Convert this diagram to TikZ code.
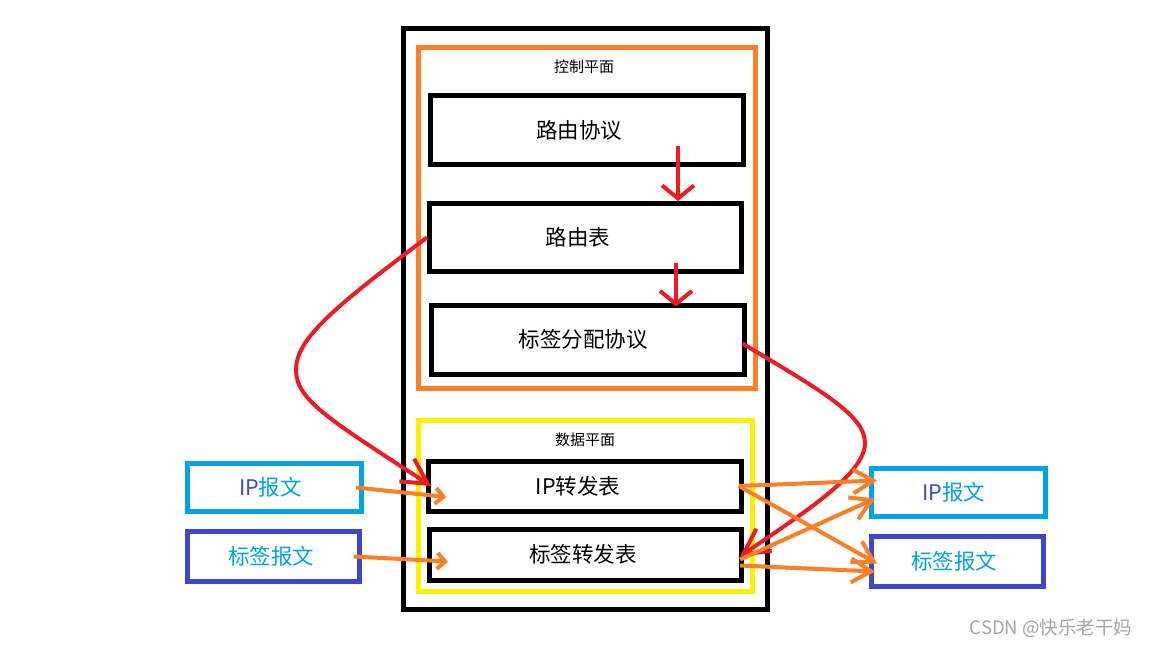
\documentclass[tikz,border=0pt]{standalone}
\usepackage{fontspec}
\setmainfont{Noto Sans CJK SC}
\usepackage{tikz}
\usetikzlibrary{arrows.meta}
\definecolor{paintRed}{HTML}{ED1C24}
\definecolor{paintOrange}{HTML}{FF7F27}
\definecolor{paintYellow}{HTML}{FFF200}
\definecolor{paintCyan}{HTML}{00A2E8}
\definecolor{paintBlue}{HTML}{3F48CC}
\tikzset{
  planebox/.style={rectangle,line width=5pt,inner sep=0pt},
  planelabel/.style={font=\fontsize{15}{17}\selectfont},
  tablebox/.style={rectangle,draw=black,line width=5pt,minimum width=313pt,
    minimum height=69pt,font=\fontsize{21.5}{25}\selectfont},
  fwdbox/.style={tablebox,minimum height=50pt},
  pktbox/.style={rectangle,line width=5pt,minimum width=174pt,minimum height=48pt,
    text=paintCyan,font=\fontsize{21.5}{25}\selectfont},
  nudge/.style={execute at begin node={\hspace*{-#1}}},
  ctrlarrow/.style={draw=paintRed,line width=4pt,-{Straight Barb[length=13pt,width=32pt]}},
  curvearrow/.style={draw=paintRed,line width=4pt,-{Straight Barb[length=25pt,width=27pt]}},
  inarrow/.style={draw=paintOrange,line width=4pt,-{Straight Barb[length=8pt,width=16pt]}},
  outarrow/.style={draw=paintOrange,line width=4pt,-{Straight Barb[length=20pt,width=24pt]}}
}

\begin{document}
\begin{tikzpicture}[x=1pt,y=-1pt]
  \useasboundingbox[fill=white] (0,0) rectangle (1152,648);
  % planes
  \node[planebox,draw=black,minimum width=364pt,minimum height=581pt] (router) at (585.5,319) {};
  \node[planebox,draw=paintOrange,minimum width=336.5pt,minimum height=341pt] (ctrl) at (586.75,218) {};
  \node[planebox,draw=paintYellow,minimum width=334pt,minimum height=171pt] (data) at (585.5,505.5) {};
  \node[planelabel] (ctrltitle) at (584,67) {控制平面};
  \node[planelabel] (datatitle) at (585,440) {数据平面};
  % control plane
  \node[tablebox,nudge=16pt] (rproto) at (587,130) {路由协议};
  \node[tablebox,nudge=15pt,minimum width=312pt,minimum height=68pt] (rtable) at (585.5,237.5) {路由表};
  \node[tablebox,nudge=9pt] (lproto) at (587.5,339.5) {标签分配协议};
  % data plane
  \node[fwdbox,nudge=14pt,minimum width=312.5pt] (ipfwd) at (585,486) {IP转发表};
  \node[fwdbox,nudge=5pt,minimum width=312pt,minimum height=51pt] (lblfwd) at (585.5,554.5) {标签转发表};
  % packets
  \node[pktbox,nudge=8pt,draw=paintCyan] (ipL) at (274.5,487.5) {{\color{paintBlue}IP}报文};
  \node[pktbox,nudge=5pt,draw=paintBlue,minimum width=172pt,minimum height=50pt] (lblL) at (273.5,556.5) {标签报文};
  \node[pktbox,nudge=9pt,draw=paintCyan] (ipR) at (958.5,492.5) {{\color{paintBlue}IP}报文};
  \node[pktbox,nudge=7pt,draw=paintBlue,minimum width=172pt,minimum height=50pt] (lblR) at (957.5,561.5) {标签报文};
  \node[text=gray!70,font=\fontsize{18.5}{20}\selectfont] (mark) at (1051,628) {CSDN @快乐老干妈};
  % red arrows
  \draw[ctrlarrow] ([xshift=91pt,yshift=-16pt]rproto.center) -- ([xshift=92.5pt]rtable.north);
  \draw[ctrlarrow] ([xshift=90.5pt,yshift=-25pt]rtable.center) -- ([xshift=88.5pt,yshift=-4pt]lproto.north);
  \draw[curvearrow] (rtable.west) .. controls (330,310) and (296,340) .. (296,370)
    .. controls (296,400) and (330,420) .. ([xshift=5pt]ipfwd.west);
  \draw[curvearrow] ([xshift=-4pt,yshift=-4pt]lproto.east) .. controls (820,390) and (865,415) .. (865,443)
    .. controls (865,475) and (800,515) .. ([xshift=-4pt,yshift=-2pt]lblfwd.east);
  % orange arrows
  \draw[inarrow] ([xshift=-8pt]ipL.east) -- ([xshift=20pt,yshift=-11pt]ipfwd.west);
  \draw[inarrow] ([xshift=-8pt]lblL.east) -- ([xshift=21pt,yshift=-7pt]lblfwd.west);
  \draw[outarrow] ([xshift=-5pt]ipfwd.east) -- ([xshift=8pt,yshift=12pt]ipR.west);
  \draw[outarrow] ([xshift=-5pt]ipfwd.east) -- ([xshift=8pt,yshift=-2pt]lblR.west);
  \draw[outarrow] ([xshift=-4pt,yshift=-5pt]lblfwd.east) -- ([xshift=6pt,yshift=-6pt]ipR.west);
  \draw[outarrow] ([xshift=-4pt,yshift=-11pt]lblfwd.east) -- ([xshift=6pt,yshift=-10pt]lblR.west);
\end{tikzpicture}
\end{document}
